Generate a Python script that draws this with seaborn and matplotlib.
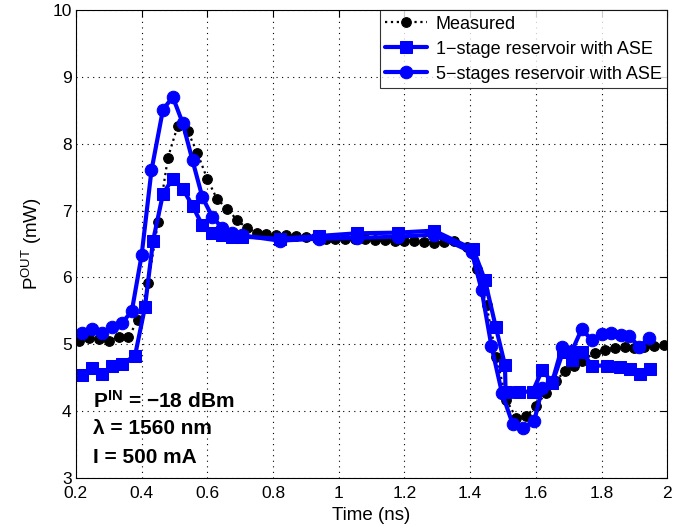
import matplotlib
matplotlib.use("Agg")
import matplotlib.pyplot as plt
import seaborn as sns
import numpy as np
import pandas as pd

# ---------------- data ----------------
meas_t = [0.21, 0.24, 0.27, 0.30, 0.33, 0.36, 0.39, 0.42, 0.45, 0.48, 0.51, 0.54,
          0.57, 0.60, 0.63, 0.66, 0.69, 0.72, 0.75, 0.78, 0.81, 0.84, 0.87, 0.90,
          0.93, 0.96, 0.99, 1.02, 1.05, 1.08, 1.11, 1.14, 1.17, 1.20, 1.23, 1.26,
          1.29, 1.32, 1.35, 1.39, 1.42, 1.45, 1.48, 1.51, 1.54, 1.57, 1.60, 1.63,
          1.66, 1.69, 1.715, 1.74, 1.78, 1.81, 1.84, 1.87, 1.90, 1.93, 1.96, 1.99]
meas_p = [5.05, 5.10, 5.08, 5.05, 5.11, 5.11, 5.37, 5.92, 6.83, 7.79, 8.27, 8.19,
          7.86, 7.47, 7.17, 7.03, 6.86, 6.74, 6.67, 6.65, 6.64, 6.63, 6.62, 6.60,
          6.60, 6.58, 6.58, 6.57, 6.57, 6.57, 6.56, 6.56, 6.55, 6.55, 6.55, 6.53,
          6.52, 6.53, 6.55, 6.45, 6.12, 5.58, 4.81, 4.17, 3.90, 3.92, 4.07, 4.27,
          4.45, 4.60, 4.68, 4.75, 4.87, 4.92, 4.95, 4.96, 4.95, 4.96, 4.98, 4.99]

one_t = [0.22, 0.25, 0.28, 0.31, 0.34, 0.38, 0.41, 0.435, 0.465, 0.495, 0.525,
         0.555, 0.585, 0.615, 0.645, 0.675, 0.705, 0.82, 0.94, 1.055, 1.18, 1.29,
         1.41, 1.445, 1.478, 1.506, 1.508, 1.55, 1.59, 1.62, 1.65, 1.683, 1.71,
         1.74, 1.771, 1.816, 1.856, 1.886, 1.917, 1.947]
one_p = [4.54, 4.64, 4.55, 4.67, 4.70, 4.83, 5.55, 6.55, 7.25, 7.48, 7.33,
         7.07, 6.78, 6.67, 6.63, 6.61, 6.61, 6.58, 6.62, 6.66, 6.67, 6.70,
         6.42, 5.96, 5.26, 4.69, 4.29, 4.29, 4.29, 4.62, 4.42, 4.89, 4.76,
         4.89, 4.68, 4.68, 4.66, 4.63, 4.55, 4.63]

five_t = [0.22, 0.25, 0.28, 0.31, 0.34, 0.37, 0.40, 0.43, 0.465, 0.495, 0.525,
          0.555, 0.585, 0.615, 0.645, 0.675, 0.705, 0.82, 0.94, 1.055, 1.18, 1.29,
          1.405, 1.435, 1.465, 1.497, 1.53, 1.56, 1.595, 1.62, 1.65, 1.68, 1.71,
          1.74, 1.77, 1.80, 1.83, 1.86, 1.885, 1.915, 1.945]
five_p = [5.17, 5.23, 5.17, 5.26, 5.32, 5.49, 6.33, 7.60, 8.51, 8.70, 8.31,
          7.75, 7.20, 6.91, 6.74, 6.67, 6.63, 6.55, 6.58, 6.59, 6.61, 6.64,
          6.38, 5.81, 4.97, 4.27, 3.80, 3.75, 3.85, 4.35, 4.44, 4.96, 4.90,
          5.23, 5.06, 5.16, 5.17, 5.14, 5.12, 4.96, 5.10]

xticks = [0.2, 0.4, 0.6, 0.8, 1.0, 1.2, 1.4, 1.6, 1.8, 2.0]
xticklabels = ["0.2", "0.4", "0.6", "0.8", "1", "1.2", "1.4", "1.6", "1.8", "2"]
yticks = [3, 4, 5, 6, 7, 8, 9, 10]

# ---------------- style ----------------
sns.set_theme(style="white")
plt.rcParams['font.family'] = ['Liberation Sans', 'DejaVu Sans']
plt.rcParams['mathtext.fontset'] = 'custom'
plt.rcParams['mathtext.rm'] = 'Liberation Sans'
plt.rcParams['mathtext.bf'] = 'Liberation Sans:bold'
plt.rcParams['mathtext.it'] = 'Liberation Sans:italic'
plt.rcParams['text.color'] = 'black'
plt.rcParams['axes.labelcolor'] = 'black'
plt.rcParams['xtick.color'] = 'black'
plt.rcParams['ytick.color'] = 'black'

fig = plt.figure(figsize=(6.9, 5.31), dpi=100)
ax = fig.add_axes([0.110, 0.100, 0.857, 0.881])

blue = (0, 0, 1)

sns.lineplot(x=meas_t, y=meas_p, ax=ax, sort=False, estimator=None,
             color="black", linestyle=":", linewidth=1.6, marker="o",
             markersize=7, markeredgecolor="black", markerfacecolor="black",
             label="Measured")
sns.lineplot(x=one_t, y=one_p, ax=ax, sort=False, estimator=None,
             color=blue, linestyle="-", linewidth=3, marker="s",
             markersize=8, markeredgecolor=blue, markerfacecolor=blue,
             label="1\u2212stage reservoir with ASE")
sns.lineplot(x=five_t, y=five_p, ax=ax, sort=False, estimator=None,
             color=blue, linestyle="-", linewidth=3, marker="o",
             markersize=9, markeredgecolor=blue, markerfacecolor=blue,
             label="5\u2212stages reservoir with ASE")

ax.set_xlim(0.2, 2.0)
ax.set_ylim(3, 10)
ax.set_xticks(xticks)
ax.set_xticklabels(xticklabels)
ax.set_yticks(yticks)
ax.grid(True, color="black", linestyle=(0, (1, 4)), linewidth=0.8)
ax.tick_params(direction="in", length=5, width=0.8, top=True, right=True,
               labelsize=12.5, colors="black")
ax.tick_params(axis="y", pad=3)
ax.tick_params(axis="x", pad=6)
for s in ax.spines.values():
    s.set_color("black")
    s.set_linewidth(0.8)

ax.set_xlabel("Time (ns)", fontsize=13.5, labelpad=4, color="black")
ax.set_ylabel("P$^{\\mathrm{OUT}}$ (mW)", fontsize=13.5, labelpad=6, color="black")

leg = ax.legend(loc="upper right", fontsize=13, frameon=True, fancybox=False,
                edgecolor="black", handlelength=2.3, borderaxespad=0.0,
                borderpad=0.3, labelspacing=0.45, handletextpad=0.5)
leg.get_frame().set_linewidth(0.8)
for t in leg.get_texts():
    t.set_color("black")

ax.text(0.252, 4.05, "$\\mathbf{P^{IN}}$ = \u221218 dBm", fontsize=15,
        fontweight="bold", va="baseline", color="black")
ax.text(0.252, 3.65, "\u03bb = 1560 nm", fontsize=15, fontweight="bold",
        va="baseline", color="black")
ax.text(0.252, 3.23, "I = 500 mA", fontsize=15, fontweight="bold",
        va="baseline", color="black")

fig.savefig("out.png", dpi=100, facecolor="white")
